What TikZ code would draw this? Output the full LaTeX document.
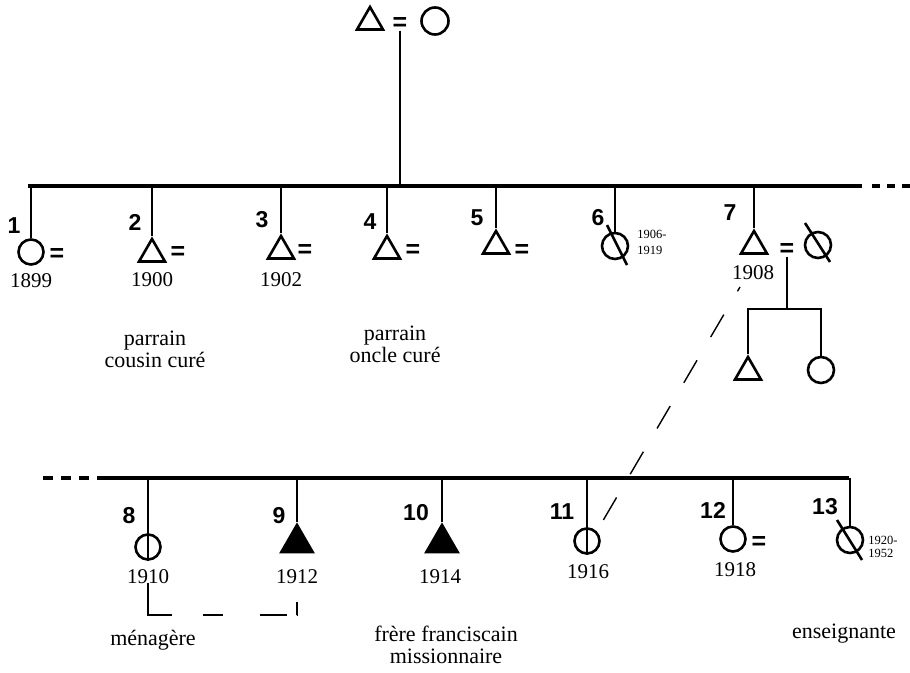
\documentclass[tikz,border=0pt]{standalone}
\usepackage{fontspec}
\setmainfont{Liberation Serif}
\setsansfont{Liberation Sans}
\usetikzlibrary{shapes.geometric,calc}

\begin{document}
\begin{tikzpicture}[x=1pt, y=-1pt,
        femnode/.style={circle, draw=black, line width=2.6pt, minimum size=25pt, inner sep=0pt},
        mannode/.style={regular polygon, regular polygon sides=3, draw=black, line width=2.6pt, minimum size=30pt, inner sep=0pt},
        fullnode/.style={mannode, fill=black, minimum size=36pt},
        kin/.style={line width=1.4pt},
        barline/.style={line width=4.5pt},
        numlabel/.style={font=\sffamily\bfseries\fontsize{23}{23}\selectfont, inner sep=0pt},
        yearlabel/.style={font=\fontsize{21}{21}\selectfont, inner sep=0pt},
        smallyear/.style={font=\fontsize{12.5}{16}\selectfont, align=left, inner sep=0pt},
        notelabel/.style={font=\fontsize{22}{22}\selectfont, align=center, inner sep=0pt},
        eqsign/.style={font=\sffamily\bfseries\fontsize{25}{25}\selectfont, inner sep=0pt}]
    \useasboundingbox (0,0) rectangle (910,672);

    % parents
    \node [mannode] (gf) at (370,22) {};
    \node [femnode, minimum size=27pt] (gm) at (435,21) {};
    \node [eqsign] (eq0) at (400,24) {=};

    % first bar
    \coordinate (barA) at (28,186);
    \coordinate (barAend) at (862,186);
    \coordinate (dotsA) at (872,186);
    \coordinate (dotsAend) at (910,186);
    \draw[barline] (barA) -- (barAend);
    \draw[barline, dash pattern=on 8pt off 7pt] (dotsA) -- (dotsAend);
    \draw[kin] (eq0.south) -- (eq0.south |- barA);

    % children 1-7
    \node [femnode] (c1) at (31,252) {};
    \node [mannode] (t2) at (152,254) {};
    \node [mannode] (t3) at (281,251) {};
    \node [mannode] (t4) at (387,251) {};
    \node [mannode] (t5) at (496,246) {};
    \node [femnode, minimum size=26pt] (c6) at (615,246) {};
    \node [mannode] (t7) at (754,246) {};
    \node [femnode, minimum size=26pt] (w7) at (818,245) {};

    \node [numlabel] (n1) at (14,226) {1};
    \node [numlabel] (n2) at (135,222) {2};
    \node [numlabel] (n3) at (262,220) {3};
    \node [numlabel] (n4) at (370,222) {4};
    \node [numlabel] (n5) at (477,218) {5};
    \node [numlabel] (n6) at (598,218) {6};
    \node [numlabel] (n7) at (730,213) {7};

    \node [eqsign] (e1) at (57,255) {=};
    \node [eqsign] (e2) at (178,253) {=};
    \node [eqsign] (e3) at (305,251) {=};
    \node [eqsign] (e4) at (413,251) {=};
    \node [eqsign] (e5) at (522,251) {=};
    \node [eqsign] (e7) at (787,250) {=};

    \node [yearlabel] (y1) at (31,281) {1899};
    \node [yearlabel] (y2) at (152,280) {1900};
    \node [yearlabel] (y3) at (281,280) {1902};
    \node [yearlabel] (y7) at (753,273) {1908};
    \node [smallyear] (y6) at (652,242) {1906-\\1919};

    \node [notelabel] (p2) at (155,349) {parrain\\cousin curé};
    \node [notelabel] (p4) at (395,344) {parrain\\oncle curé};

    \draw[kin] (c1.north |- barA) -- (c1.north)
        (t2.north |- barA) -- (t2.north)
        (t3.north |- barA) -- (t3.north)
        (t4.north |- barA) -- (t4.north)
        (t5.north |- barA) -- (t5.north)
        (c6.north |- barA) -- (c6.north)
        (t7.north |- barA) -- (t7.north);
    \draw[line width=2.6pt] ($(c6)+(-8,-21)$) -- ($(c6)+(12,19)$);
    \draw[line width=2.6pt] ($(w7)+(-13,-22)$) -- ($(w7)+(12,17)$);

    % children of 7
    \node [mannode] (t7a) at (748,372) {};
    \node [femnode, minimum size=26pt] (c7b) at (821,370) {};
    \coordinate (sib7) at (787,309);
    \draw[kin] (e7.south) -- (sib7);
    \draw[kin] (t7a.north) -- (t7a.north |- sib7) -- (c7b.north |- sib7) -- (c7b.north);

    % second bar
    \coordinate (barB) at (97,478);
    \coordinate (barBend) at (849,478);
    \coordinate (dotsB) at (43,478);
    \coordinate (dotsBend) at (90,478);
    \draw[barline] (barB) -- (barBend);
    \draw[barline, dash pattern=on 10pt off 8pt] (dotsB) -- (dotsBend);

    % children 8-13
    \node [femnode] (c8) at (148,547) {};
    \node [fullnode] (t9) at (297,543) {};
    \node [fullnode] (t10) at (442,543) {};
    \node [femnode] (c11) at (587,541) {};
    \node [femnode] (c12) at (733,539) {};
    \node [femnode, minimum size=26pt] (c13) at (850,540) {};

    \node [numlabel] (n8) at (129,516) {8};
    \node [numlabel] (n9) at (279,516) {9};
    \node [numlabel] (n10) at (416,513) {10};
    \node [numlabel] (n11) at (562,512) {11};
    \node [numlabel] (n12) at (713,510) {12};
    \node [numlabel] (n13) at (825,507) {13};

    \node [eqsign] (e12) at (759,543) {=};

    \node [yearlabel] (y8) at (148,577) {1910};
    \node [yearlabel] (y9) at (297,577) {1912};
    \node [yearlabel] (y10) at (440,577) {1914};
    \node [yearlabel] (y11) at (588,572) {1916};
    \node [yearlabel] (y12) at (735,570) {1918};
    \node [smallyear, font=\fontsize{12.5}{13}\selectfont] (y13) at (883,547) {1920-\\1952};

    \node [notelabel] (m8) at (153,640) {ménagère};
    \node [notelabel] (m10) at (446,645) {frère franciscain\\missionnaire};
    \node [notelabel] (m13) at (844,634) {enseignante};

    \draw[kin] (c8.north |- barB) -- (c8.south)
        (t9.north |- barB) -- (t9.north)
        (t10.north |- barB) -- (t10.north)
        (c11.north |- barB) -- (c11.south)
        (c12.north |- barB) -- (c12.north)
        (c13.north |- barB) -- (c13.north);
    \draw[line width=2.6pt] ($(c13)+(-13,-20)$) -- ($(c13)+(12,20)$);

    % 8 and 9
    \coordinate (br8) at (148,583);
    \coordinate (br9) at (297,602);
    \draw[kin, dash pattern=on 56pt off 31pt on 20pt off 37pt on 27pt off 10pt on 13pt]
        (br8) -- (br8 |- 0,615) -- (br9 |- 0,615) -- (br9);

    % 7 and 11
    \coordinate (link7) at (740,287);
    \coordinate (link11) at (601,524);
    \draw[kin, dash pattern=on 26pt off 27pt, dash phase=21pt] (link7) -- (link11);
\end{tikzpicture}
\end{document}
